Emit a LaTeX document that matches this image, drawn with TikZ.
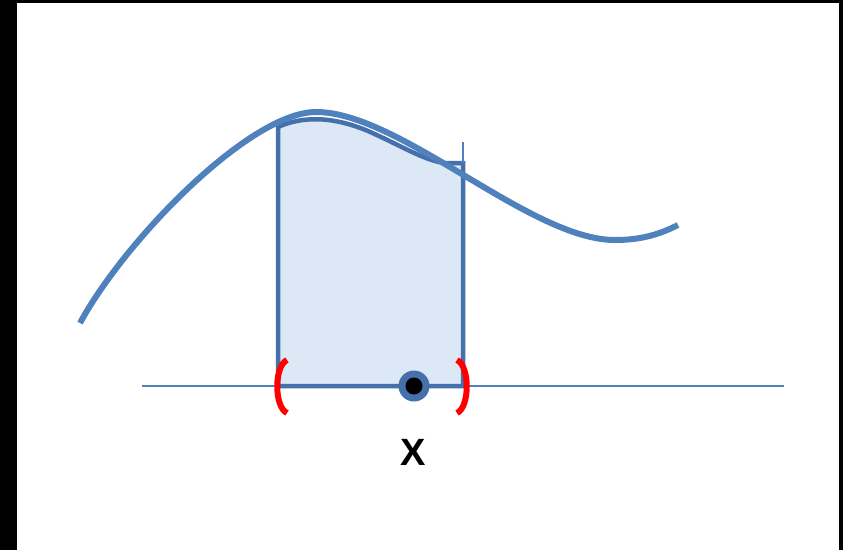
\documentclass[tikz,border=0pt]{standalone}
\usepackage{fontspec}
\setmainfont{Liberation Sans}
\begin{document}
\begin{tikzpicture}[x=1pt,y=-1pt,
  curvecol/.style={draw=curveblue,line width=6pt,line cap=butt},
  rectedge/.style={draw=rectblue,line width=4.5pt},
  bracket/.style={draw=red,line width=6pt,line cap=butt}]
\definecolor{curveblue}{HTML}{4F81BD}
\definecolor{rectblue}{HTML}{4570AC}
\definecolor{fillblue}{HTML}{DCE8F5}
\useasboundingbox (0,0) rectangle (843,550);
\fill[white] (0,0) rectangle (843,550);
% black frame strips
\fill[black] (0,0) rectangle (17,550);
\fill[black] (0,0) rectangle (843,3);
\fill[black] (839,0) rectangle (843,550);
% axis
\coordinate (axL) at (142,386);
\coordinate (axR) at (784,386);
\draw[draw=curveblue,line width=2pt] (axL) -- (axR);
% rectangle
\coordinate (rBL) at (278,386);
\coordinate (rTL) at (278,127);
\coordinate (rBR) at (463,386);
\coordinate (rTR) at (463,163);
\filldraw[fill=fillblue,rectedge,line join=miter]
  (rBL) -- (rTL) .. controls (300,117) and (330,115) .. (368,131)
  .. controls (400,145) and (425,161) .. (445,163) -- (rTR) -- (rBR) -- cycle;
\coordinate (vTop) at (463,142);
\draw[draw=curveblue,line width=2pt] (vTop) -- (rTR);
% main curve
\coordinate (c0) at (80,323);
\coordinate (c1) at (316,112);
\coordinate (c2) at (615,240);
\coordinate (c3) at (678,225);
\draw[curvecol] (c0) .. controls (125,240) and (250,112) .. (c1)
  .. controls (400,112) and (530,240) .. (c2)
  .. controls (642,240) and (660,234) .. (c3);
% brackets
\coordinate (lbT) at (287,360);
\coordinate (lbB) at (287,413);
\coordinate (rbT) at (457,360);
\coordinate (rbB) at (457,413);
\draw[bracket] (lbT) .. controls (274,366) and (274,407) .. (lbB);
\draw[bracket] (rbT) .. controls (470,366) and (470,407) .. (rbB);
% point
\node[circle,fill=rectblue,minimum size=31pt,inner sep=0pt] (pt) at (414,386) {};
\node[circle,fill=black,minimum size=17pt,inner sep=0pt] (ptc) at (pt) {};
\node[font=\bfseries\fontsize{38}{40}\selectfont,inner sep=0pt] (lab) at (413,452) {X};
\end{tikzpicture}
\end{document}
